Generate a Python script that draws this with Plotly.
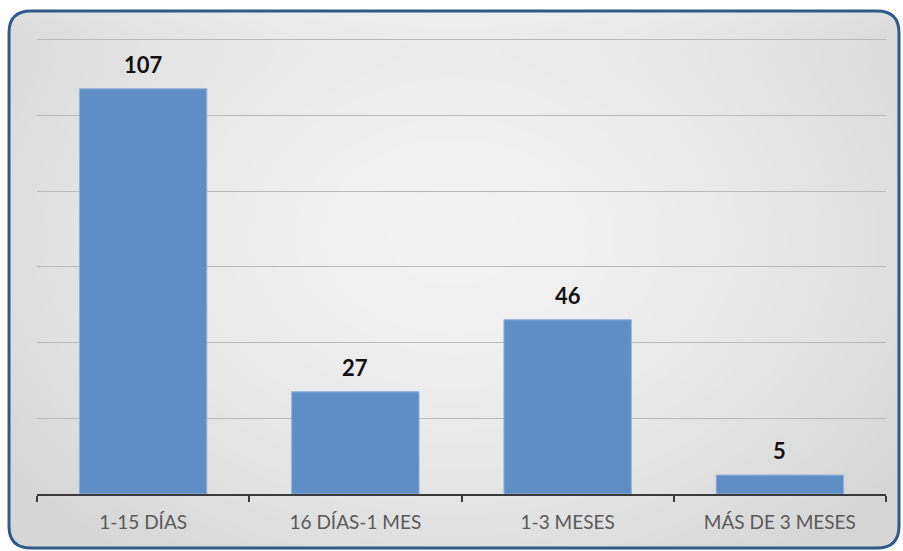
import base64
import struct
import zlib

import numpy as np
import plotly.graph_objects as go

# Chart data
categories = ["1-15 DÍAS", "16 DÍAS-1 MES", "1-3 MESES", "MÁS DE 3 MESES"]
counts = [107, 27, 46, 5]

W, H = 903, 551
L, R, T, B = 37, 17, 38, 57
PW, PH = W - L - R, H - T - B
# frame rectangle in pixels
FX0, FY0, FX1, FY1 = 9, 11, 899, 548
RADIUS = 22


def px(x):
    return (x - L) / PW


def py(y):
    return (H - B - y) / PH


def png_data_uri(rgba):
    h, w, _ = rgba.shape
    raw = b"".join(b"\x00" + rgba[y].tobytes() for y in range(h))

    def chunk(tag, data):
        c = struct.pack(">I", len(data)) + tag + data
        return c + struct.pack(">I", zlib.crc32(tag + data) & 0xFFFFFFFF)

    png = b"\x89PNG\r\n\x1a\n"
    png += chunk(b"IHDR", struct.pack(">IIBBBBB", w, h, 8, 6, 0, 0, 0))
    png += chunk(b"IDAT", zlib.compress(raw, 9))
    png += chunk(b"IEND", b"")
    return "data:image/png;base64," + base64.b64encode(png).decode()


def gradient_panel(w, h, r):
    yy, xx = np.mgrid[0:h, 0:w].astype(float)
    # elliptical radial shading, lighter towards the upper middle
    dx = (xx - w * 0.5) / (w * 0.62)
    dy = (yy - h * 0.42) / (h * 0.75)
    d = np.clip(np.sqrt(dx * dx + dy * dy), 0, 1)
    inner, outer = 243.0, 214.0
    v = inner + (outer - inner) * d ** 1.6
    # slight brightening along the top edge
    v += 8 * np.exp(-yy / 25.0)
    v = np.clip(v, 0, 255)
    # rounded-corner alpha mask
    cx = np.clip(xx, r, w - 1 - r)
    cy = np.clip(yy, r, h - 1 - r)
    dist = np.sqrt((xx - cx) ** 2 + (yy - cy) ** 2)
    alpha = np.clip(r + 0.5 - dist, 0, 1) * 255
    img = np.zeros((h, w, 4), dtype=np.uint8)
    img[..., 0] = v.astype(np.uint8)
    img[..., 1] = v.astype(np.uint8)
    img[..., 2] = np.clip(v + 1, 0, 255).astype(np.uint8)
    img[..., 3] = alpha.astype(np.uint8)
    return img


panel = gradient_panel(FX1 - FX0, FY1 - FY0, RADIUS)

fig = go.Figure()
fig.add_trace(
    go.Bar(
        x=categories,
        y=counts,
        width=0.6,
        marker=dict(color="#5f8ec6", line=dict(color="#8fb1da", width=1)),
        hoverinfo="x+y",
    )
)

for cat, val in zip(categories, counts):
    fig.add_annotation(
        x=cat, y=val, text=f"<b>{val}</b>", showarrow=False,
        yanchor="bottom", yshift=9,
        font=dict(family="Lato, Open Sans, sans-serif", size=22, color="#111111"),
    )


def rounded_path(x0, y0, x1, y1, r):
    rx, ry = r / PW, r / PH
    X0, X1, Y0, Y1 = px(x0), px(x1), py(y1), py(y0)
    return (
        f"M {X0 + rx},{Y1} L {X1 - rx},{Y1} Q {X1},{Y1} {X1},{Y1 - ry} "
        f"L {X1},{Y0 + ry} Q {X1},{Y0} {X1 - rx},{Y0} "
        f"L {X0 + rx},{Y0} Q {X0},{Y0} {X0},{Y0 + ry} "
        f"L {X0},{Y1 - ry} Q {X0},{Y1} {X0 + rx},{Y1} Z"
    )


# rounded frame border
fig.add_shape(
    type="path", xref="paper", yref="paper",
    path=rounded_path(FX0, FY0, FX1, FY1, RADIUS),
    line=dict(color="#2e5b8c", width=3), layer="above",
)

fig.add_layout_image(
    source=png_data_uri(panel), xref="paper", yref="paper",
    x=px(FX0), y=py(FY0), sizex=(FX1 - FX0) / PW, sizey=(FY1 - FY0) / PH,
    xanchor="left", yanchor="top", sizing="stretch", layer="below",
)

fig.update_layout(
    width=W, height=H,
    margin=dict(l=L, r=R, t=T, b=B),
    paper_bgcolor="white",
    plot_bgcolor="rgba(0,0,0,0)",
    showlegend=False,
    xaxis=dict(
        type="category", range=[-0.5, 3.5],
        showline=True, linecolor="#3a3a3a", linewidth=1.5,
        ticks="outside", tickson="boundaries", ticklen=6,
        tickcolor="#3a3a3a", tickwidth=1.5, ticklabelstandoff=10,
        tickfont=dict(family="Lato, Open Sans, sans-serif", size=19, color="#595959"),
        showgrid=False, zeroline=False,
    ),
    yaxis=dict(
        range=[0, 120.4], tickvals=[20, 40, 60, 80, 100, 120], showticklabels=False,
        showgrid=True, gridcolor="#b9b9b9", gridwidth=1,
        zeroline=False, showline=False, ticks="",
    ),
)

fig.write_html("out.html")
